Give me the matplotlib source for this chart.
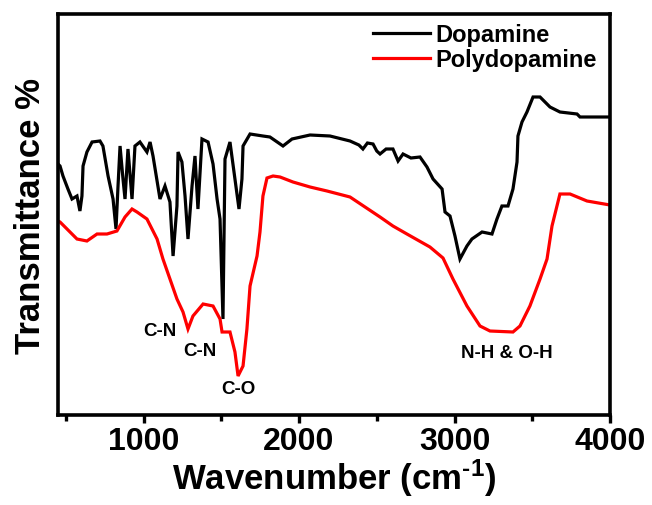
import matplotlib
matplotlib.use("Agg")
import matplotlib.pyplot as plt
from matplotlib.ticker import FixedLocator

plt.rcParams['font.family'] = ['Liberation Sans', 'DejaVu Sans']
plt.rcParams['font.weight'] = 'bold'
plt.rcParams['mathtext.fontset'] = 'custom'
plt.rcParams['mathtext.rm'] = 'Liberation Sans:bold'
plt.rcParams['mathtext.bf'] = 'Liberation Sans:bold'
plt.rcParams['mathtext.it'] = 'Liberation Sans:bold'

# ---- data (wavenumber cm^-1, transmittance arbitrary units) ----
dopamine_wn = [450, 463, 482, 514, 540, 572, 591, 604, 611, 636, 669, 720, 739, 772, 804, 823,
               836, 849, 868, 881, 900, 926, 945, 977, 1022, 1042, 1061, 1106, 1138, 1170, 1190,
               1215, 1222, 1247, 1267, 1286, 1312, 1331, 1350, 1376, 1415, 1447, 1473, 1492, 1511,
               1524, 1556, 1588, 1614, 1633, 1640, 1685, 1768, 1813, 1897, 1955, 2071, 2199, 2328,
               2385, 2411, 2440, 2476, 2500, 2521, 2560, 2604, 2637, 2669, 2720, 2778, 2823, 2862,
               2920, 2939, 2971, 3003, 3035, 3080, 3112, 3177, 3241, 3273, 3305, 3344, 3376, 3402,
               3408, 3434, 3466, 3505, 3550, 3614, 3678, 3788, 3807, 4000]
dopamine_t = [251, 249, 239, 226, 216, 219, 204, 219, 249, 263, 273, 274, 269, 239, 216, 186,
              229, 269, 236, 216, 266, 216, 269, 273, 263, 273, 259, 216, 229, 213, 159,
              209, 263, 253, 219, 176, 229, 259, 206, 276, 273, 251, 216, 196, 96,
              256, 273, 236, 206, 236, 269, 281, 279, 278, 269, 276, 280, 279, 274,
              270, 266, 272, 271, 264, 261, 266, 266, 254, 261, 257, 258, 248, 236,
              226, 203, 199, 179, 156, 169, 176, 183, 181, 196, 209, 209, 226, 253,
              279, 293, 303, 318, 318, 308, 303, 301, 298, 298]

pda_wn = [450, 463, 508, 572, 636, 701, 765, 829, 881, 926, 958, 1022, 1087, 1125, 1170, 1215,
          1254, 1286, 1318, 1383, 1447, 1492, 1505, 1556, 1588, 1608, 1640, 1665, 1685, 1730,
          1749, 1768, 1794, 1833, 1878, 1961, 2071, 2180, 2328, 2521, 2604, 2694, 2842, 2926,
          2990, 3080, 3164, 3228, 3376, 3421, 3485, 3550, 3595, 3627, 3678, 3743, 3852, 4000]
pda_t = [194, 193, 186, 176, 174, 181, 181, 184, 198, 206, 203, 196, 176, 156, 136, 116,
         103, 86, 99, 111, 109, 96, 83, 83, 63, 39, 49, 86, 129, 159,
         183, 219, 237, 239, 238, 233, 228, 224, 218, 198, 189, 181, 168, 157,
         136, 109, 89, 84, 83, 89, 109, 136, 156, 189, 221, 221, 214, 210]

series_labels = ["Dopamine", "Polydopamine"]
series_colors = ["#000000", "#ff0000"]

major_ticks = [1000, 2000, 3000, 4000]
minor_ticks = [500, 1500, 2500, 3500]

peak_labels = ["C-N", "C-N", "C-O", "N-H & O-H"]
peak_wn = [1106, 1363, 1608, 3338]
peak_t = [84, 64, 26, 63]

# ---- figure ----
W, H = 652, 506
fig = plt.figure(figsize=(W / 100, H / 100), dpi=100)
ax = fig.add_axes([58 / W, 90 / H, 552 / W, 401 / H])

ax.plot(dopamine_wn, dopamine_t, color=series_colors[0], lw=2.3, label=series_labels[0],
        solid_joinstyle='miter')
ax.plot(pda_wn, pda_t, color=series_colors[1], lw=2.3, label=series_labels[1],
        solid_joinstyle='miter')

ax.set_xlim(450, 4000)
ax.set_ylim(0, 401)

ax.xaxis.set_major_locator(FixedLocator(major_ticks))
ax.xaxis.set_minor_locator(FixedLocator(minor_ticks))
ax.set_xticklabels([str(t) for t in major_ticks])
ax.tick_params(axis='x', which='major', direction='out', length=6, width=2.4,
               labelsize=23, pad=2)
ax.tick_params(axis='x', which='minor', direction='out', length=4, width=2.4)
ax.set_yticks([])
for lab in ax.get_xticklabels():
    lab.set_fontweight('bold')

for s in ax.spines.values():
    s.set_linewidth(2.6)

ax.set_xlabel("Wavenumber (cm$^{\\text{-1}}$)", fontsize=25, fontweight='bold', labelpad=0)
ax.set_ylabel("Transmittance %", fontsize=25, fontweight='bold', labelpad=8)

for txt, xw, yt in zip(peak_labels, peak_wn, peak_t):
    ax.text(xw, yt, txt, fontsize=13.5, fontweight='bold', ha='center', va='center')

leg = ax.legend(loc='upper left', bbox_to_anchor=(373 / W, (506 - 24) / H),
                bbox_transform=fig.transFigure, frameon=False, fontsize=17,
                handlelength=2.4, handletextpad=0.25, labelspacing=0.1,
                borderpad=0, borderaxespad=0)
for t in leg.get_texts():
    t.set_fontweight('bold')

fig.savefig("out.png", dpi=100)
